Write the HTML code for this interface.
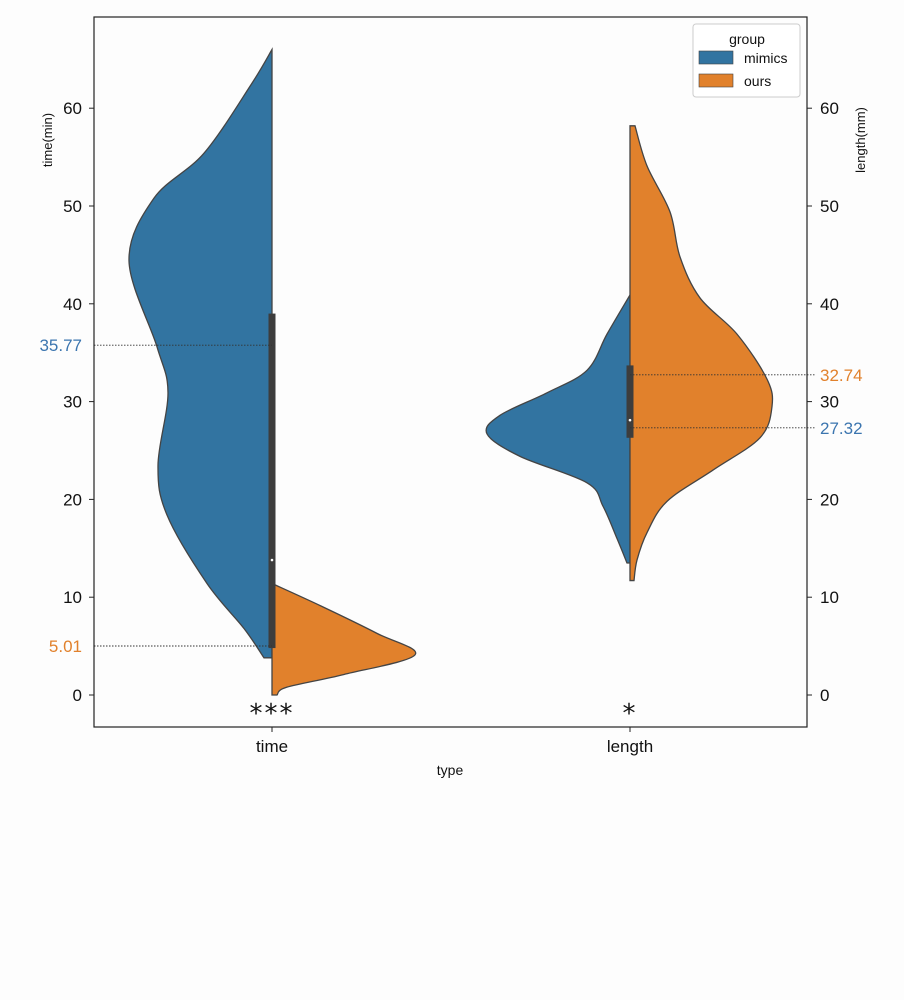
<!DOCTYPE html>
<html><head><meta charset="utf-8"><style>
body{margin:0;background:#fdfdfd;}
svg{display:block;font-family:"Liberation Sans",sans-serif;}
</style></head><body>
<svg id="chart" width="904" height="1000" viewBox="0 0 904 1000">
<rect x="0" y="0" width="904" height="1000" fill="#fdfdfd"/>
<g id="marks"></g>
<rect x="94" y="17" width="713" height="710" fill="none" stroke="#222" stroke-width="1.2"/>
<g id="axes"></g>
<text x="450" y="775" font-size="14" text-anchor="middle" fill="#111">type</text>
<text transform="translate(52,140) rotate(-90)" font-size="13" text-anchor="middle" fill="#111">time(min)</text>
<text transform="translate(865,140) rotate(-90)" font-size="13" text-anchor="middle" fill="#111">length(mm)</text>
<g>
<rect x="693" y="24" width="107" height="73" fill="#fff" stroke="#ccc" rx="3"/>
<text x="747" y="44" font-size="14" text-anchor="middle" fill="#111">group</text>
<rect x="699" y="51" width="34" height="13" fill="#3274a1" stroke="#444" stroke-width="0.6"/>
<text x="744" y="63" font-size="14" fill="#111">mimics</text>
<rect x="699" y="74" width="34" height="13" fill="#e1812c" stroke="#444" stroke-width="0.6"/>
<text x="744" y="86" font-size="14" fill="#111">ours</text>
</g>
</svg>
<script>
const categories=["time","length"];
const tickValues=[0,10,20,30,40,50,60];
const timeMimicsV=[66,62.4,55.4,50.8,44.4,35.6,30.9,23.5,18.4,11.4,6.8,3.8];
const timeMimicsW=[0,21,68,118,143,115,104,114,105,65,28,8];
const timeOursV=[11.4,9.1,6.3,4.1,2.1,0.8,0];
const timeOursW=[0,49,105,143,72,15,5];
const lenMimicsV=[40.9,36.9,33.2,30.9,28.6,26.7,24.4,21.7,19.3,16,13.5];
const lenMimicsW=[0,23,43,83,130,143,110,43,27,13,3];
const lenOursV=[58.2,54.1,49.4,44.8,40.6,36.9,32.3,29.5,26.3,23,19.8,16.6,13.8,11.7];
const lenOursW=[5,17,40,50,70,107,137,142,130,83,37,17,7,4];
const boxes=[[4.8,39,13.8],[26.3,33.7,28.1]];
const meanLines=[{cat:0,v:35.77,side:"left",color:"#3b75af",label:"35.77"},{cat:0,v:5.01,side:"left",color:"#e1812c",label:"5.01"},{cat:1,v:32.74,side:"right",color:"#e1812c",label:"32.74"},{cat:1,v:27.32,side:"right",color:"#3b75af",label:"27.32"}];
const sigLabels=["***","*"];
const NS="http://www.w3.org/2000/svg";
const y=v=>695-9.78*v;
const xc=i=>[272,630][i];
const marks=document.getElementById('marks'),axes=document.getElementById('axes');
function mk(t,a,p){const e=document.createElementNS(NS,t);for(const k in a)e.setAttribute(k,a[k]);(p||marks).appendChild(e);return e;}
function smooth(pts){let d="M"+pts[0][0]+","+pts[0][1];for(let i=0;i<pts.length-1;i++){const p0=pts[i-1]||pts[i],p1=pts[i],p2=pts[i+1],p3=pts[i+2]||p2;d+=" C"+(p1[0]+(p2[0]-p0[0])/6)+","+(p1[1]+(p2[1]-p0[1])/6)+" "+(p2[0]-(p3[0]-p1[0])/6)+","+(p2[1]-(p3[1]-p1[1])/6)+" "+p2[0]+","+p2[1];}return d;}
function violin(ci,vs,ws,dir,color,name){const c=xc(ci);const pts=vs.map((v,i)=>[c+dir*ws[i],y(v)]);let d=smooth(pts);d+=" L"+c+","+y(vs[vs.length-1])+" L"+c+","+y(vs[0])+" Z";
const p=mk('path',{d:d,fill:color,stroke:"#444","stroke-width":1.3});

}
violin(0,timeMimicsV,timeMimicsW,-1,"#3274a1","violin-time-mimics");
violin(0,timeOursV,timeOursW,1,"#e1812c","violin-time-ours");
violin(1,lenMimicsV,lenMimicsW,-1,"#3274a1","violin-length-mimics");
violin(1,lenOursV,lenOursW,1,"#e1812c","violin-length-ours");
boxes.forEach((b,i)=>{const r=mk('rect',{x:xc(i)-3.5,y:y(b[1]),width:7,height:y(b[0])-y(b[1]),fill:"#3d3d3d"});


const m=mk('circle',{cx:xc(i),cy:y(b[2]),r:1.3,fill:"#fff"});

});
meanLines.forEach(m=>{const yy=y(m.v);const x1=m.side=="left"?94:xc(m.cat),x2=m.side=="left"?xc(m.cat):815;
const l=mk('line',{x1:x1,x2:x2,y1:yy,y2:yy,stroke:"#333","stroke-width":0.9,"stroke-dasharray":"1.5,1.5"});


const t=mk('text',{x:m.side=="left"?82:820,y:yy+6,"font-size":17,fill:m.color,"text-anchor":m.side=="left"?"end":"start"},axes);
t.textContent=m.label;

});
tickValues.forEach(v=>{const yy=y(v);
const a=mk('line',{x1:89,x2:94,y1:yy,y2:yy,stroke:"#222"},axes);


const t=mk('text',{x:82,y:yy+6,"font-size":17,fill:"#111","text-anchor":"end"},axes);t.textContent=v;


const b=mk('line',{x1:807,x2:812,y1:yy,y2:yy,stroke:"#222"},axes);


const t2=mk('text',{x:820,y:yy+6,"font-size":17,fill:"#111"},axes);t2.textContent=v;

});
categories.forEach((c,i)=>{const a=mk('line',{x1:xc(i),x2:xc(i),y1:727,y2:732,stroke:"#222"},axes);


const t=mk('text',{x:xc(i),y:752,"font-size":17,fill:"#111","text-anchor":"middle"},axes);t.textContent=c;


const s=mk('text',{x:xc(i),y:722,"font-size":26,fill:"#111","text-anchor":"middle","font-family":"DejaVu Sans","letter-spacing":"2"},axes);s.textContent=sigLabels[i];

});
</script>
</body></html>
